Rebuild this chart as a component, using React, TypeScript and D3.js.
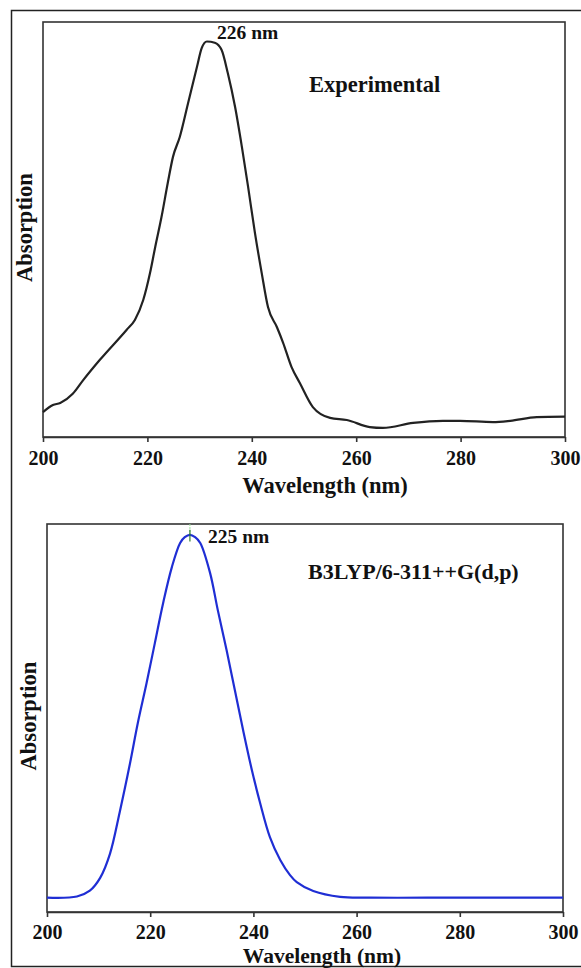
import React, { useEffect, useRef } from 'react';
import * as d3 from 'd3';

// values (wavelength in nm, absorption in arbitrary units 0..1)
const expWavelength = [
  200.0, 201.9, 203.3, 205.7, 207.7, 210.9, 216.0, 217.6, 219.2, 220.5, 221.5, 222.7,
  223.9, 224.9, 226.2, 227.8, 229.5, 230.4, 231.4, 232.9, 234.2, 235.4, 236.8, 238.1,
  239.3, 240.6, 241.9, 243.1, 244.8, 246.0, 247.6, 249.2, 251.7, 255.0, 258.2, 262.6,
  265.1, 270.9, 276.6, 279.9, 286.2, 289.5, 294.6, 300.0,
];
const expAbsorption = [
  0.060, 0.077, 0.082, 0.104, 0.137, 0.186, 0.258, 0.282, 0.330, 0.395, 0.458, 0.530,
  0.612, 0.675, 0.723, 0.805, 0.892, 0.937, 0.953, 0.950, 0.933, 0.877, 0.795, 0.699,
  0.602, 0.492, 0.395, 0.313, 0.265, 0.227, 0.169, 0.130, 0.072, 0.046, 0.041, 0.024,
  0.022, 0.034, 0.039, 0.039, 0.036, 0.039, 0.048, 0.049,
];

const calcWavelength = [
  200.0, 205.8, 208.3, 210.3, 212.2, 214.1, 216.1, 217.6, 219.3, 220.9, 222.5, 224.2,
  225.8, 226.7, 227.7, 228.7, 229.7, 231.6, 233.1, 234.8, 236.4, 238.0, 239.7, 241.3,
  243.2, 245.2, 247.1, 248.4, 251.6, 256.8, 262.6, 280.0, 300.0,
];
const calcAbsorption = [
  0.037, 0.040, 0.055, 0.088, 0.150, 0.258, 0.384, 0.487, 0.590, 0.693, 0.796, 0.889,
  0.951, 0.966, 0.972, 0.966, 0.951, 0.874, 0.778, 0.675, 0.572, 0.469, 0.366, 0.281,
  0.193, 0.134, 0.095, 0.077, 0.054, 0.039, 0.037, 0.037, 0.037,
];

const xTicks = [200, 220, 240, 260, 280, 300];
const peakLabels = ['226 nm', '225 nm'];
const methodLabels = ['Experimental', 'B3LYP/6-311++G(d,p)'];
const calcPeak = 227.7;

const FONT = '"Liberation Serif", "Times New Roman", serif';

const App = () => {
  const svgRef = useRef(null);

  useEffect(() => {
    const svg = d3.select(svgRef.current);
    svg.selectAll('*').remove();

    // outer border of the figure
    svg.append('rect')
      .attr('x', 11.5).attr('y', 10.5)
      .attr('width', 620).attr('height', 956)
      .attr('fill', 'none')
      .attr('stroke', '#222')
      .attr('stroke-width', 1.5);

    const panels = [
      {
        box: { left: 43, top: 22, right: 565, bottom: 437 },
        wl: expWavelength, ab: expAbsorption, color: '#222', width: 2.2,
        peak: peakLabels[0], peakPos: [217, 39],
        method: methodLabels[0], methodPos: [309, 92],
        yLabelX: 32, xLabelPos: [325, 493], xLabelSize: 22.5, pad: 9,
      },
      {
        box: { left: 47, top: 524, right: 563, bottom: 912 },
        wl: calcWavelength, ab: calcAbsorption, color: '#1f2ed4', width: 2.2,
        peak: peakLabels[1], peakPos: [208, 543],
        method: methodLabels[1], methodPos: [308, 579],
        yLabelX: 36, xLabelPos: [322, 963], xLabelSize: 21.5, pad: 8,
      },
    ];

    panels.forEach((p, i) => {
      const { left, top, right, bottom } = p.box;
      const x = d3.scaleLinear().domain([200, 300]).range([left, right]);
      const y = d3.scaleLinear().domain([0, 1]).range([bottom, top]);

      const g = svg.append('g');

      g.append('rect')
        .attr('x', left).attr('y', top)
        .attr('width', right - left).attr('height', bottom - top)
        .attr('fill', 'none')
        .attr('stroke', '#333')
        .attr('stroke-width', 1.6);

      const axis = d3.axisBottom(x)
        .tickValues(xTicks)
        .tickFormat(d3.format('d'))
        .tickSize(5)
        .tickSizeOuter(0)
        .tickPadding(p.pad);

      const ax = g.append('g')
        .attr('transform', `translate(0,${bottom})`)
        .call(axis);
      ax.select('.domain').attr('stroke', '#333').attr('stroke-width', 1.6);
      ax.selectAll('.tick line').attr('stroke', '#333').attr('stroke-width', 1.6);
      ax.selectAll('.tick text')
        .attr('fill', '#111')
        .style('font-family', FONT)
        .style('font-weight', 'bold')
        .style('font-size', '20px');

      const pts = p.wl.map((w, k) => [w, p.ab[k]]);
      const line = d3.line()
        .x(d => x(d[0]))
        .y(d => y(d[1]))
        .curve(i === 0 ? d3.curveMonotoneX : d3.curveCatmullRom.alpha(0.5));

      if (i === 1) {
        // small green peak marker from the computed spectrum
        g.append('line')
          .attr('x1', x(calcPeak)).attr('x2', x(calcPeak))
          .attr('y1', y(1.0)).attr('y2', y(0.97))
          .attr('stroke', '#9be39b')
          .attr('stroke-width', 1)
          .attr('stroke-dasharray', '2,1');
      }

      g.append('path')
        .datum(pts)
        .attr('d', line)
        .attr('fill', 'none')
        .attr('stroke', p.color)
        .attr('stroke-width', p.width)
        .attr('stroke-linejoin', 'round');

      if (i === 1) {
        g.append('line')
          .attr('x1', x(calcPeak)).attr('x2', x(calcPeak))
          .attr('y1', y(0.985)).attr('y2', y(0.955))
          .attr('stroke', '#2e7d32')
          .attr('stroke-width', 1.2);
      }

      const txt = (tx, ty, s, size) => g.append('text')
        .attr('x', tx).attr('y', ty)
        .attr('fill', '#111')
        .style('font-family', FONT)
        .style('font-weight', 'bold')
        .style('font-size', `${size}px`)
        .text(s);

      txt(p.peakPos[0], p.peakPos[1], p.peak, 19.5);
      txt(p.methodPos[0], p.methodPos[1], p.method, i === 0 ? 22.5 : 22);

      txt(p.xLabelPos[0], p.xLabelPos[1], 'Wavelength (nm)', p.xLabelSize)
        .attr('text-anchor', 'middle');

      g.append('text')
        .attr('transform', `translate(${p.yLabelX},${(top + bottom) / 2 - 2}) rotate(-90)`)
        .attr('text-anchor', 'middle')
        .attr('fill', '#111')
        .style('font-family', FONT)
        .style('font-weight', 'bold')
        .style('font-size', '22.5px')
        .text('Absorption');
    });
  }, []);

  return (
    <svg
      ref={svgRef}
      width={581}
      height={968}
      style={{ position: 'absolute', left: 0, top: 0, background: '#fff' }}
    />
  );
};

export default App;
